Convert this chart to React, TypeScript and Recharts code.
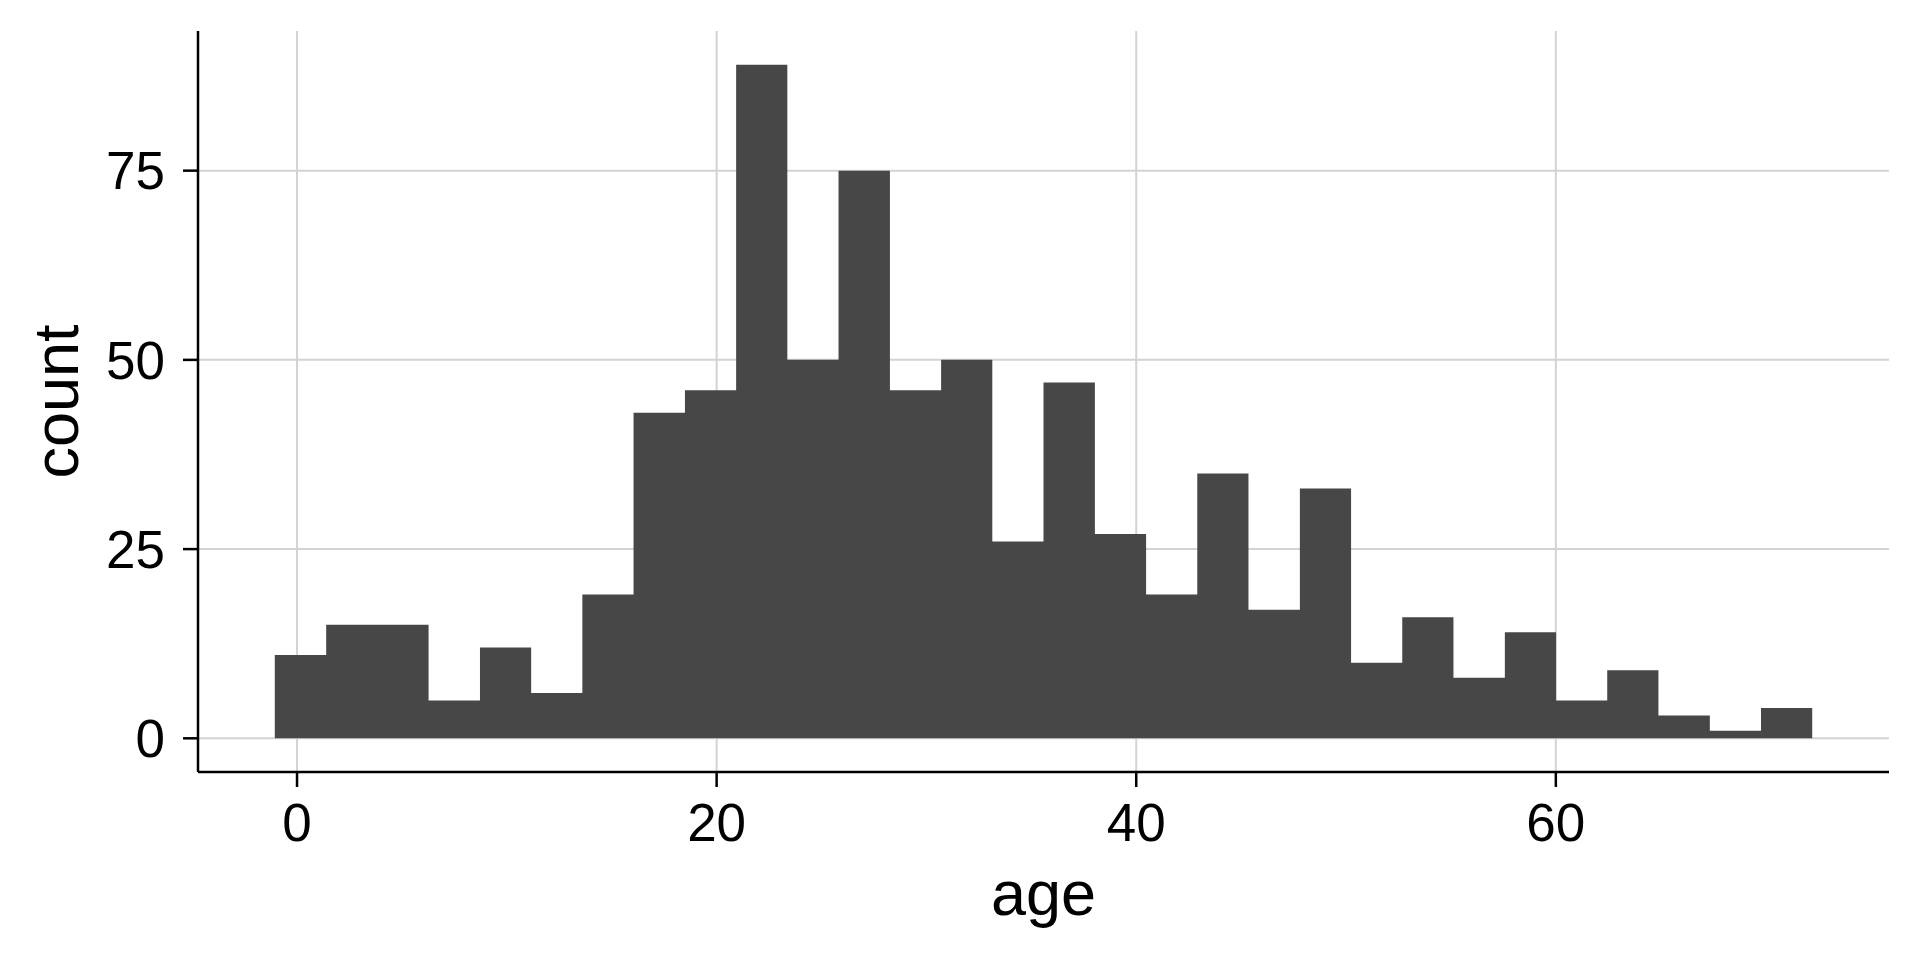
import React from 'react';
import { ComposedChart, Area, XAxis, YAxis, CartesianGrid } from 'recharts';

// Histogram of age: left edges of the 30 bins plus the final right edge
const binEdges = [
  -1.06, 1.39, 3.83, 6.27, 8.72, 11.16, 13.6, 16.04, 18.49, 20.93,
  23.37, 25.81, 28.26, 30.7, 33.14, 35.58, 38.03, 40.47, 42.91, 45.35,
  47.8, 50.24, 52.68, 55.12, 57.57, 60.01, 62.45, 64.89, 67.34, 69.78,
  72.22,
];
const binCounts = [
  11, 15, 15, 5, 12, 6, 19, 43, 46, 89,
  50, 75, 46, 50, 26, 47, 27, 19, 35, 17,
  33, 10, 16, 8, 14, 5, 9, 3, 1, 4,
];
const xTicks = [0, 20, 40, 60];
const yTicks = [0, 25, 50, 75];
const xDomain = [-4.72, 75.88];
const yDomain = [-4.45, 93.45];
const xTitle = 'age';
const yTitle = 'count';

// step data: each bin edge carries the count of the bin to its right; the last edge repeats the last count
const data = binEdges.map((edge, i) => ({
  age: edge,
  count: binCounts[Math.min(i, binCounts.length - 1)],
}));

const FONT = '"Liberation Sans", Arial, Helvetica, sans-serif';

const YTitleLabel = (props: any) => {
  const vb = props.viewBox || { x: 0, y: 31, width: 198, height: 741 };
  const cx = vb.x + 78;
  const cy = vb.y + vb.height / 2;
  return (
    <text
      x={cx}
      y={cy}
      transform={`rotate(-90 ${cx} ${cy})`}
      textAnchor="middle"
      fontFamily={FONT}
      fontSize={63}
      fill="#000"
    >
      {yTitle}
    </text>
  );
};

const XTitleLabel = (props: any) => {
  const vb = props.viewBox || { x: 198, y: 772, width: 1691, height: 188 };
  const cx = vb.x + vb.width / 2;
  const cy = vb.y + 143;
  return (
    <text x={cx} y={cy} textAnchor="middle" fontFamily={FONT} fontSize={63} fill="#000">
      {xTitle}
    </text>
  );
};

export default function App() {
  return (
    <div style={{ position: 'absolute', left: 0, top: 0, width: 1920, height: 960, background: '#fff' }}>
      <ComposedChart
        width={1920}
        height={960}
        data={data}
        margin={{ top: 31, right: 31, left: 0, bottom: 0 }}
      >
        <CartesianGrid
          stroke="#d3d3d3"
          strokeWidth={2}
          horizontalValues={yTicks}
          verticalValues={xTicks}
        />
        <XAxis
          dataKey="age"
          type="number"
          domain={xDomain}
          ticks={xTicks}
          allowDataOverflow
          height={188}
          tickSize={15}
          tickMargin={16}
          axisLine={{ stroke: '#000', strokeWidth: 2.5 }}
          tickLine={{ stroke: '#000', strokeWidth: 2.5 }}
          tick={{ fill: '#000', fontSize: 53, fontFamily: FONT }}
          label={<XTitleLabel />}
        />
        <YAxis
          type="number"
          domain={yDomain}
          ticks={yTicks}
          allowDataOverflow
          width={198}
          tickSize={15}
          tickMargin={18}
          axisLine={{ stroke: '#000', strokeWidth: 2.5 }}
          tickLine={{ stroke: '#000', strokeWidth: 2.5 }}
          tick={{ fill: '#000', fontSize: 53, fontFamily: FONT }}
          label={<YTitleLabel />}
        />
        <Area
          type="stepAfter"
          dataKey="count"
          baseValue={0}
          fill="#474747"
          fillOpacity={1}
          stroke="none"
          dot={false}
          activeDot={false}
          isAnimationActive={false}
        />
      </ComposedChart>
    </div>
  );
}
